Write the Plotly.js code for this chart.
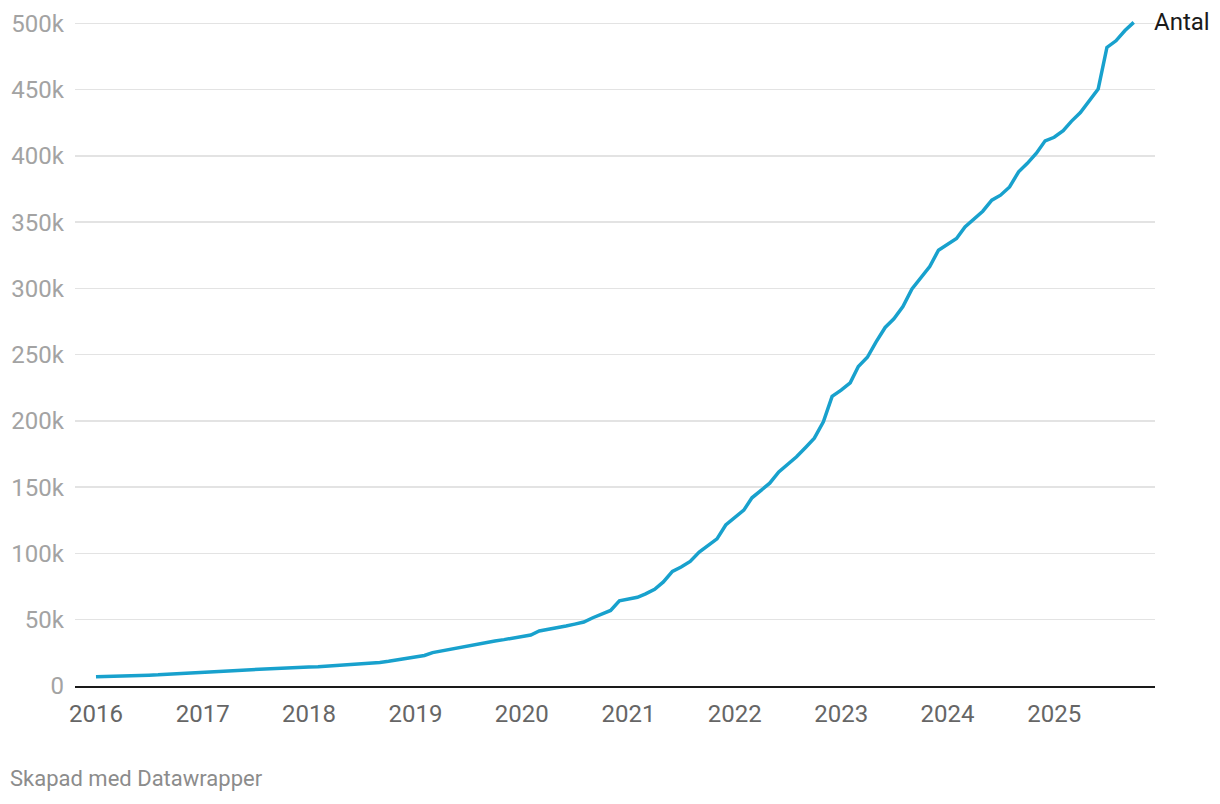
<!DOCTYPE html>
<html>
<head>
<meta charset="utf-8">
<script src="https://cdn.plot.ly/plotly-3.0.1.min.js"></script>
<style>
  html, body { margin: 0; padding: 0; background: #fff; }
  #chart { width: 1220px; height: 804px; }
</style>
</head>
<body>
<div id="chart"></div>
<script>
// Monthly dates (first of month), Jan 2016 – Oct 2025
const dates = [
  "2016-01-01","2016-02-01","2016-03-01","2016-04-01","2016-05-01","2016-06-01","2016-07-01","2016-08-01","2016-09-01","2016-10-01","2016-11-01","2016-12-01",
  "2017-01-01","2017-02-01","2017-03-01","2017-04-01","2017-05-01","2017-06-01","2017-07-01","2017-08-01","2017-09-01","2017-10-01","2017-11-01","2017-12-01",
  "2018-01-01","2018-02-01","2018-03-01","2018-04-01","2018-05-01","2018-06-01","2018-07-01","2018-08-01","2018-09-01","2018-10-01","2018-11-01","2018-12-01",
  "2019-01-01","2019-02-01","2019-03-01","2019-04-01","2019-05-01","2019-06-01","2019-07-01","2019-08-01","2019-09-01","2019-10-01","2019-11-01","2019-12-01",
  "2020-01-01","2020-02-01","2020-03-01","2020-04-01","2020-05-01","2020-06-01","2020-07-01","2020-08-01","2020-09-01","2020-10-01","2020-11-01","2020-12-01",
  "2021-01-01","2021-02-01","2021-03-01","2021-04-01","2021-05-01","2021-06-01","2021-07-01","2021-08-01","2021-09-01","2021-10-01","2021-11-01","2021-12-01",
  "2022-01-01","2022-02-01","2022-03-01","2022-04-01","2022-05-01","2022-06-01","2022-07-01","2022-08-01","2022-09-01","2022-10-01","2022-11-01","2022-12-01",
  "2023-01-01","2023-02-01","2023-03-01","2023-04-01","2023-05-01","2023-06-01","2023-07-01","2023-08-01","2023-09-01","2023-10-01","2023-11-01","2023-12-01",
  "2024-01-01","2024-02-01","2024-03-01","2024-04-01","2024-05-01","2024-06-01","2024-07-01","2024-08-01","2024-09-01","2024-10-01","2024-11-01","2024-12-01",
  "2025-01-01","2025-02-01","2025-03-01","2025-04-01","2025-05-01","2025-06-01","2025-07-01","2025-08-01","2025-09-01","2025-10-01"
];

// Antal (in thousands)
const antal = [
  7.0, 7.3, 7.6, 7.8, 8.0, 8.1, 8.2, 8.4, 8.7, 9.0, 9.3, 9.6,
  10.0, 10.4, 10.9, 11.3, 11.7, 12.1, 12.5, 12.8, 13.1, 13.4, 13.7, 14.0,
  14.3, 14.6, 15.0, 15.4, 15.8, 16.2, 16.6, 17.0, 17.8, 18.6, 19.6, 20.7,
  21.8, 23.0, 25.2, 26.5, 27.8, 29.5, 30.5, 31.5, 33.0, 34.0, 35.0, 36.0,
  37.0, 38.5, 41.5, 43.0, 44.0, 45.3, 46.7, 48.3, 51.5, 54.0, 57.0, 64.3,
  65.7, 66.9, 69.5, 73.0, 78.5, 86.5, 89.8, 94.0, 101.0, 106.0, 111.0, 121.5,
  127.5, 132.7, 142.0, 147.5, 153.0, 161.5, 167.0, 172.9, 180.0, 187.0, 199.3, 218.5,
  223.2, 228.7, 241.0, 248.0, 259.7, 270.5, 277.0, 286.3, 299.5, 307.5, 316.5, 328.8,
  333.0, 337.6, 346.4, 352.0, 358.2, 366.5, 370.3, 376.5, 388.0, 394.3, 402.0, 411.3,
  414.0, 419.0, 426.0, 432.7, 441.6, 450.4, 481.8, 486.8, 494.5, 500.7
];

const yTickVals = [0, 50, 100, 150, 200, 250, 300, 350, 400, 450, 500];
const yTickText = ["0", "50k", "100k", "150k", "200k", "250k", "300k", "350k", "400k", "450k", "500k"];
const xTickVals = ["2016-01-01","2017-01-01","2018-01-01","2019-01-01","2020-01-01","2021-01-01","2022-01-01","2023-01-01","2024-01-01","2025-01-01"];
const xTickText = ["2016","2017","2018","2019","2020","2021","2022","2023","2024","2025"];
const seriesName = "Antal";
const creditText = "Skapad med Datawrapper";

const trace = {
  x: dates,
  y: antal,
  type: "scatter",
  mode: "lines",
  name: seriesName,
  line: { color: "#18a1cd", width: 3.5, shape: "linear" },
  hoverinfo: "skip"
};

const layout = {
  width: 1220,
  height: 804,
  margin: { l: 75, r: 65, t: 16, b: 118 },
  paper_bgcolor: "#ffffff",
  plot_bgcolor: "#ffffff",
  showlegend: false,
  font: { family: "Roboto, sans-serif" },
  xaxis: {
    type: "date",
    range: ["2015-10-21", "2025-12-13"],
    tickmode: "array",
    tickvals: xTickVals,
    ticktext: xTickText,
    showgrid: false,
    zeroline: false,
    showline: true,
    linecolor: "#1a1a1a",
    linewidth: 2,
    ticks: "",
    ticklabelstandoff: 5,
    tickfont: { family: "Roboto, sans-serif", size: 24, color: "#666666" },
    fixedrange: true
  },
  yaxis: {
    range: [0, 505.5],
    tickmode: "array",
    tickvals: yTickVals,
    ticktext: yTickText,
    showgrid: true,
    gridcolor: "#e3e3e3",
    gridwidth: 1.5,
    zeroline: false,
    showline: false,
    ticks: "",
    ticklabelstandoff: 10,
    tickfont: { family: "Roboto, sans-serif", size: 24, color: "#a3a3a3" },
    fixedrange: true
  },
  annotations: [
    {
      x: 1, xref: "paper",
      y: antal[antal.length - 1], yref: "y",
      xanchor: "left", yanchor: "middle",
      xshift: -3,
      text: seriesName,
      showarrow: false,
      font: { family: "Roboto, sans-serif", size: 24, color: "#1a1a1a" }
    },
    {
      x: -67 / 1080, xref: "paper",
      y: -92 / 670, yref: "paper",
      xanchor: "left", yanchor: "middle",
      text: creditText,
      showarrow: false,
      font: { family: "Roboto, sans-serif", size: 22, color: "#8c8c8c" }
    }
  ]
};

Plotly.newPlot("chart", [trace], layout, { displayModeBar: false, staticPlot: true });
</script>
</body>
</html>
